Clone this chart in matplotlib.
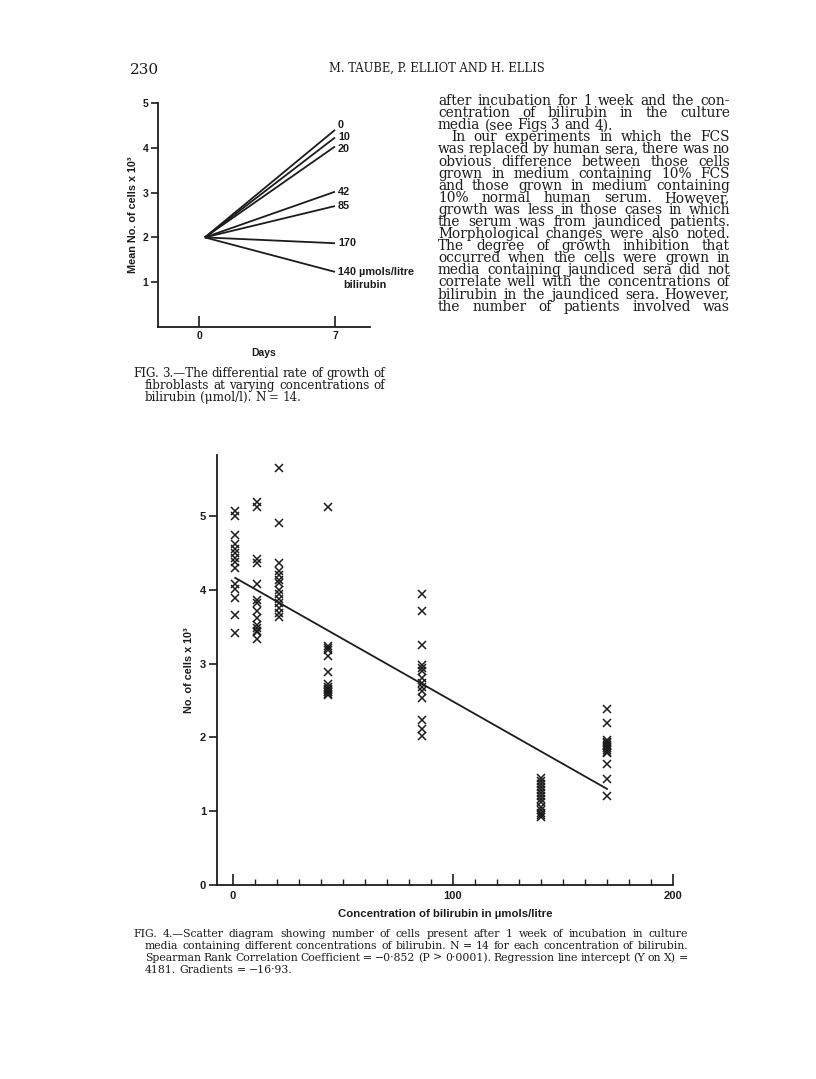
import numpy as np
import matplotlib.pyplot as plt

# --- Fig. 3 data: mean no. of cells (x 10^3) after 7 days, per bilirubin conc.
fig3_labels = ['0', '10', '20', '42', '85', '170', '140 µmols/litre']
fig3_start = 2.0
fig3_day7 = [4.40, 4.23, 4.03, 3.02, 2.70, 1.87, 1.23]

# --- Fig. 4 data: no. of cells (x 10^3) per bilirubin concentration
fig4_conc = [1, 11, 21, 43, 86, 140, 170]
fig4_cells = [
    [5.07, 5.00, 4.75, 4.63, 4.55, 4.50, 4.43, 4.38, 4.30, 4.08, 4.01, 3.89, 3.66, 3.41],
    [5.19, 5.13, 4.42, 4.37, 4.08, 3.87, 3.82, 3.71, 3.62, 3.53, 3.48, 3.45, 3.43, 3.33],
    [5.65, 4.91, 4.37, 4.26, 4.20, 4.13, 4.10, 4.00, 3.95, 3.88, 3.82, 3.76, 3.69, 3.64],
    [5.12, 3.24, 3.22, 3.19, 3.11, 2.89, 2.73, 2.68, 2.66, 2.64, 2.62, 2.61, 2.59, 2.58],
    [3.94, 3.71, 3.26, 2.98, 2.94, 2.90, 2.81, 2.74, 2.69, 2.63, 2.53, 2.24, 2.11, 2.02],
    [1.45, 1.41, 1.37, 1.33, 1.29, 1.25, 1.21, 1.16, 1.12, 1.06, 1.02, 0.98, 0.95, 0.92],
    [2.38, 2.20, 1.97, 1.94, 1.92, 1.90, 1.88, 1.86, 1.83, 1.81, 1.79, 1.64, 1.44, 1.21],
]
intercept = 4.181    # x 10^3
gradient = -0.01693  # x 10^3 per µmol/litre

W, H = 816, 1079
ink = '#1c1c1c'
sans = 'Liberation Sans'
serif = 'DejaVu Serif'

fig = plt.figure(figsize=(W / 100, H / 100), dpi=100)
fig.patch.set_facecolor('white')
renderer = fig.canvas.get_renderer()


def fx(px):
    return px / W


def fy(py):
    return 1 - py / H


def word_widths(words, size):
    out = []
    for w in words:
        t = fig.text(0, 0, w, fontsize=size, family=serif)
        out.append(t.get_window_extent(renderer).width)
        t.remove()
    return out


def block(lines, x1, y0, step, size, min_gap):
    # one font size for the whole block: largest that lets every justified line fit
    while True:
        ok = True
        for text, x0, full in lines:
            words = text.split(' ')
            if full and len(words) > 1:
                gap = (x1 - x0 - sum(word_widths(words, size))) / (len(words) - 1)
                if gap < min_gap:
                    ok = False
                    break
        if ok:
            break
        size -= 0.1
    for i, (text, x0, full) in enumerate(lines):
        words = text.split(' ')
        widths = word_widths(words, size)
        if full and len(words) > 1:
            gap = (x1 - x0 - sum(widths)) / (len(words) - 1)
        else:
            gap = size * 100 / 72 * 0.3
        x = x0
        for w, wd in zip(words, widths):
            fig.text(fx(x), fy(y0 + i * step), w, fontsize=size, family=serif,
                     va='baseline', color=ink)
            x += wd + gap


# ---------------- header
fig.text(fx(130), fy(74), '230', fontsize=11, family=serif, color=ink, va='baseline')
fig.text(fx(437), fy(72), 'M. TAUBE, P. ELLIOT AND H. ELLIS', fontsize=8.3, family=serif,
         color=ink, va='baseline', ha='center')

# ---------------- Fig. 3
ax3 = fig.add_axes([fx(158), fy(327), (370 - 158) / W, (327 - 103) / H])
label_dy = {'0': 0.11, '10': 0.0, '20': -0.06}
for lab, v in zip(fig3_labels, fig3_day7):
    ax3.plot([0.3, 7], [fig3_start, v], color=ink, lw=1.3, solid_capstyle='butt')
    ax3.text(7.15, v + label_dy.get(lab, 0), lab, fontsize=7.8, fontweight='bold',
             family=sans, va='center', ha='left', color=ink, clip_on=False)
ax3.text(7.45, fig3_day7[-1] - 0.3, 'bilirubin', fontsize=7.8, fontweight='bold',
         family=sans, va='center', ha='left', color=ink, clip_on=False)
ax3.set_xlim(-2.11, 8.8)
ax3.set_ylim(0, 5)
ax3.set_xticks([0, 7])
ax3.set_yticks([1, 2, 3, 4, 5])
ax3.tick_params(axis='x', direction='in', length=8, width=1.2, pad=3, colors=ink)
ax3.tick_params(axis='y', direction='out', length=5, width=1.2, pad=2, colors=ink)
for t in ax3.get_xticklabels() + ax3.get_yticklabels():
    t.set_fontsize(7.5)
    t.set_fontweight('bold')
    t.set_family(sans)
ax3.set_xlabel('Days', fontsize=7.5, fontweight='bold', family=sans, color=ink, labelpad=5)
ax3.set_ylabel('Mean No. of cells x 10³', fontsize=7.8, fontweight='bold', family=sans,
               color=ink, labelpad=3)
for s in ['top', 'right']:
    ax3.spines[s].set_visible(False)
for s in ['left', 'bottom']:
    ax3.spines[s].set_linewidth(1.3)
    ax3.spines[s].set_color(ink)

fig3_caption = [
    ('FIG. 3.—The differential rate of growth of', 133, True),
    ('fibroblasts at varying concentrations of', 145, True),
    ('bilirubin (μmol/l). N = 14.', 145, False),
]
block(fig3_caption, 385, 377, 12, 8.6, 3.0)

# ---------------- body text (right column)
body = [
    ('after incubation for 1 week and the con-', 438, True),
    ('centration of bilirubin in the culture', 438, True),
    ('media (see Figs 3 and 4).', 438, False),
    ('In our experiments in which the FCS', 451, True),
    ('was replaced by human sera, there was no', 438, True),
    ('obvious difference between those cells', 438, True),
    ('grown in medium containing 10% FCS', 438, True),
    ('and those grown in medium containing', 438, True),
    ('10% normal human serum. However,', 438, True),
    ('growth was less in those cases in which', 438, True),
    ('the serum was from jaundiced patients.', 438, True),
    ('Morphological changes were also noted.', 438, True),
    ('The degree of growth inhibition that', 438, True),
    ('occurred when the cells were grown in', 438, True),
    ('media containing jaundiced sera did not', 438, True),
    ('correlate well with the concentrations of', 438, True),
    ('bilirubin in the jaundiced sera. However,', 438, True),
    ('the number of patients involved was', 438, True),
]
block(body, 730, 105, 12.1, 10.3, 3.5)

# ---------------- Fig. 4
ax4 = fig.add_axes([fx(217), fy(885), (673 - 217) / W, (885 - 455) / H])
for c, vals in zip(fig4_conc, fig4_cells):
    ax4.plot([c] * len(vals), vals, 'x', color=ink, ms=5.3, mew=1.1)
xr = np.array([fig4_conc[0], fig4_conc[-1]])
ax4.plot(xr, intercept + gradient * xr, color=ink, lw=1.3)
ax4.set_xlim(-7.3, 200)
ax4.set_ylim(0, 5.83)
ax4.set_xticks([0, 100, 200])
ax4.set_xticks(range(0, 201, 10), minor=True)
ax4.set_yticks([0, 1, 2, 3, 4, 5])
ax4.tick_params(axis='x', which='major', direction='in', length=8, width=1.2, pad=4, colors=ink)
ax4.tick_params(axis='x', which='minor', direction='in', length=4, width=1.0, colors=ink)
ax4.tick_params(axis='y', direction='out', length=6, width=1.2, pad=2, colors=ink)
for t in ax4.get_xticklabels() + ax4.get_yticklabels():
    t.set_fontsize(8)
    t.set_fontweight('bold')
    t.set_family(sans)
ax4.set_xlabel('Concentration of bilirubin in µmols/litre', fontsize=8.2, fontweight='bold',
               family=sans, color=ink, labelpad=6)
ax4.set_ylabel('No. of cells x 10³', fontsize=7.8, fontweight='bold', family=sans,
               color=ink, labelpad=4)
for s in ['top', 'right']:
    ax4.spines[s].set_visible(False)
for s in ['left', 'bottom']:
    ax4.spines[s].set_linewidth(1.3)
    ax4.spines[s].set_color(ink)

fig4_caption = [
    ('FIG. 4.—Scatter diagram showing number of cells present after 1 week of incubation in culture', 133, True),
    ('media containing different concentrations of bilirubin. N = 14 for each concentration of bilirubin.', 145, True),
    ('Spearman Rank Correlation Coefficient = −0·852 (P > 0·0001). Regression line intercept (Y on X) =', 145, True),
    ('4181. Gradients = −16·93.', 145, False),
]
block(fig4_caption, 688, 937, 12, 8.3, 2.5)

fig.savefig('out.png', dpi=100, facecolor='white')
